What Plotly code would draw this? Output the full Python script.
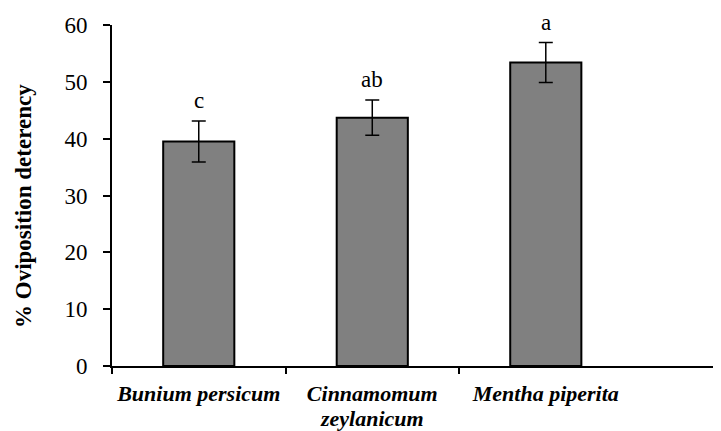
import plotly.graph_objects as go

categories = ["Bunium persicum", "Cinnamomum zeylanicum", "Mentha piperita"]
tick_labels = ["<b><i>Bunium persicum</i></b>", "<b><i>Cinnamomum</i></b>", "<b><i>Mentha piperita</i></b>"]
second_line = ["", "<b><i>zeylanicum</i></b>", ""]
means = [39.5, 43.7, 53.4]
errors = [3.6, 3.1, 3.5]
letters = ["c", "ab", "a"]
y_ticks = [0, 10, 20, 30, 40, 50, 60]

x_pos = list(range(len(categories)))
serif = "Liberation Serif, Times New Roman, serif"

fig = go.Figure()
fig.add_trace(go.Bar(
    x=x_pos, y=means, width=0.41,
    marker=dict(color="#808080", line=dict(color="black", width=2)),
    error_y=dict(type="data", array=errors, visible=True, color="black", thickness=1.5, width=7),
    showlegend=False,
))

for xi, m, e, t in zip(x_pos, means, errors, letters):
    fig.add_annotation(x=xi, y=m + e, text=t, showarrow=False, yanchor="bottom",
                       yshift=6, font=dict(family=serif, size=23, color="black"))

for xi, t in zip(x_pos, second_line):
    if t:
        fig.add_annotation(x=xi, y=0, yref="paper", text=t, showarrow=False,
                           yanchor="top", yshift=-39, borderpad=0,
                           font=dict(family=serif, size=22, color="black"))

fig.update_layout(
    width=721, height=431,
    margin=dict(l=104, r=9, t=16.5, b=73.3),
    plot_bgcolor="white", paper_bgcolor="white",
    font=dict(family=serif, color="black"),
)
fig.update_xaxes(
    range=[-0.5, 3.004], tickmode="array", tickvals=x_pos, ticktext=tick_labels,
    ticks="", showgrid=False, zeroline=False, automargin=False,
    showline=True, linecolor="black", linewidth=2,
    tickfont=dict(family=serif, size=22, color="black"),
    ticklabelstandoff=7,
    minor=dict(tickmode="array", tickvals=[-0.5, 0.5, 1.5], ticks="outside",
               ticklen=6, tickwidth=2, tickcolor="black", showgrid=False),
)
fig.update_yaxes(
    range=[0, 60], tickmode="array", tickvals=y_ticks, automargin=False,
    ticks="outside", ticklen=7, tickwidth=2, tickcolor="black",
    showgrid=False, zeroline=False, showline=True, linecolor="black", linewidth=2,
    tickfont=dict(family=serif, size=23, color="black"),
    ticklabelstandoff=11,
)
fig.add_annotation(
    xref="paper", yref="paper", x=-0.146, y=0.47, xanchor="center", yanchor="middle",
    text="<b>% Oviposition deterency</b>", textangle=-90, showarrow=False,
    font=dict(family=serif, size=23, color="black"),
)

fig.write_html("out.html")
